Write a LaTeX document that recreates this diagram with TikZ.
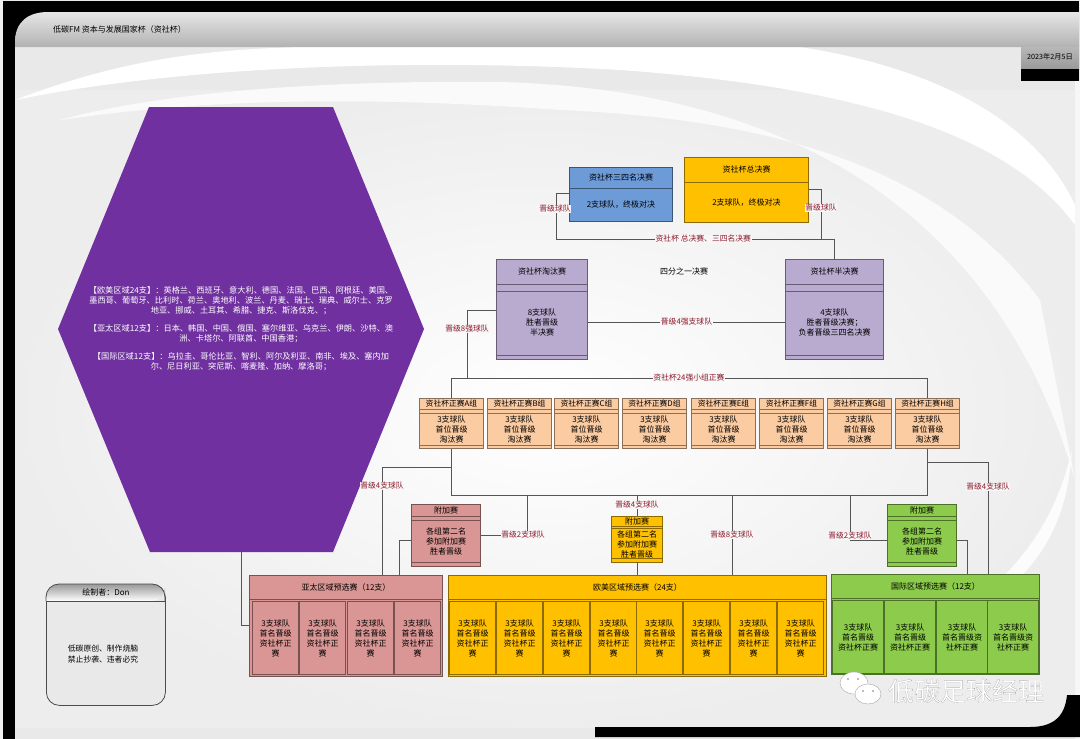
\documentclass[tikz,border=0pt]{standalone}
\usepackage{fontspec}
\setmainfont{Noto Sans CJK SC}
\newfontfamily\markfont[FakeBold=0.35]{Noto Sans CJK SC}
\usetikzlibrary{positioning,shapes.geometric,calc}

\definecolor{cPurple}{HTML}{7030A0}
\definecolor{cLilac}{HTML}{B8ABCF}
\definecolor{cBlue}{HTML}{6C9BD8}
\definecolor{cGold}{HTML}{FFC000}
\definecolor{cPeach}{HTML}{FBCBA2}
\definecolor{cRose}{HTML}{D99694}
\definecolor{cGreen}{HTML}{8CCB4B}
\definecolor{cLine}{HTML}{555555}
\definecolor{cLabel}{HTML}{8B1A2B}
\definecolor{cPage}{HTML}{E9E9E9}

\tikzset{
  x=1pt,y=-1pt,
  boxbody/.style={draw=#1!55!black,line width=1pt,anchor=north west,inner sep=0pt},
  boxrule/.style={draw=#1!55!black,line width=0.8pt},
  boxtext/.style={align=center,font=\fontsize{8}{10}\selectfont,text=black,inner sep=0pt},
  wire/.style={draw=cLine,line width=0.9pt},
  wirelabel/.style={font=\fontsize{7.8}{9}\selectfont,text=cLabel,fill=white!97!black,inner sep=0.6pt},
  cellbox/.style={boxbody=#1,fill=#1,line width=1.2pt,minimum height=73pt},
}

% name, x, y, w, h, band, colour, title, body
\newcommand{\compbox}[9]{%
  \node[boxbody=#7,fill=#7,minimum width=#4pt,minimum height=#5pt] (#1) at (#2,#3) {};
  \draw[boxrule=#7] ($(#1.north west)+(0,#6)$) -- ($(#1.north east)+(0,#6)$);
  \node[boxtext] (#1t) at ($(#1.north)+(0,#6/2)$) {#8};
  \node[boxtext] (#1b) at ($(#1.center)+(0,#6/2)$) {#9};
}
% name, colour, rule from the top, rule from the bottom
\newcommand{\morerules}[4]{%
  \draw[boxrule=#2] ($(#1.north west)+(0,#3)$) -- ($(#1.north east)+(0,#3)$)
    ($(#1.south west)+(0,-#4)$) -- ($(#1.south east)+(0,-#4)$);
}

\begin{document}
\begin{tikzpicture}
  \useasboundingbox (0,0) rectangle (1080,739);
  % page
  \fill[cPage] (0,0) rectangle (1080,739);
  \fill[white!97!black] (1075,81) rectangle (1080,739);
  \fill[white!94!black] (0,0) rectangle (3,739);
  \shade[inner color=white,outer color=white!93!black] (15,90) rectangle (1075,727);
  \fill[white] (15,100) .. controls (120,60) and (200,50) .. (300,47) -- (800,47)
    .. controls (950,70) and (1040,130) .. (1075,205) -- (1075,225)
    .. controls (1020,150) and (900,90) .. (620,70) .. controls (450,60) and (200,62) .. (15,100) -- cycle;
  \fill[white!98!black] (60,120) .. controls (150,95) and (300,80) .. (500,82)
    .. controls (800,90) and (1000,220) .. (1075,480) -- (1040,300)
    .. controls (950,180) and (800,120) .. (560,110) .. controls (350,95) and (200,100) .. (60,120) -- cycle;
  \fill[white!99!black] (1000,580) .. controls (1040,540) and (1060,500) .. (1072,450)
    .. controls (1068,510) and (1050,550) .. (1012,585) -- cycle;
  \fill[black] (3,1) rectangle (1079,12);
  \fill[black] (3,1) rectangle (15,739);
  \fill[black] (15,12) rectangle (50,47);
  \fill[black] (595,727) -- (1030,727) .. controls (1055,727) and (1065,715) .. (1067,695)
    -- (1080,695) -- (1080,737) -- (595,737) -- cycle;
  % title band
  \shade[top color=white!90!black,bottom color=white!70!black] (15,47) -- (15,42)
    .. controls (15,22) and (28,12) .. (48,12) -- (1079,12) -- (1079,47) -- cycle;
  \shade[top color=white!72!black,bottom color=white!60!black] (1021,47) rectangle (1079,69);
  \fill[black] (1021,69) rectangle (1079,81);
  \node[boxtext,anchor=west] (titlebar) at (53,29) {低碳FM 资本与发展国家杯（资社杯）};
  \node[boxtext,font=\fontsize{7.2}{9}\selectfont] (datebar) at (1050,57) {2023年2月5日};

  % region list
  \fill[cPurple] (149,107) -- (333,107) -- (424,329) -- (333,552) -- (150,552) -- (58,329) -- cycle;
  \coordinate (hexfoot) at (241,552);
  \node[align=center,text=white,font=\fontsize{8.2}{10}\selectfont,inner sep=0pt] (regions) at (241,329)
    {【欧美区域24支】：英格兰、西班牙、意大利、德国、法国、巴西、阿根廷、美国、\\
     墨西哥、葡萄牙、比利时、荷兰、奥地利、波兰、丹麦、瑞士、瑞典、威尔士、克罗\\
     地亚、挪威、土耳其、希腊、捷克、斯洛伐克、；\\[8pt]
     【亚太区域12支】：日本、韩国、中国、俄国、塞尔维亚、乌克兰、伊朗、沙特、澳\\
     洲、卡塔尔、阿联酋、中国香港；\\[8pt]
     【国际区域12支】：乌拉圭、哥伦比亚、智利、阿尔及利亚、南非、埃及、塞内加\\
     尔、尼日利亚、突尼斯、喀麦隆、加纳、摩洛哥；};

  % author note
  \node[draw=black!70,fill=cPage,rounded corners=13pt,anchor=north west,minimum width=119pt,minimum height=121pt,line width=0.8pt] (author) at (46,584) {};
  \shade[top color=white!60!black,bottom color=white,rounded corners=13pt] (46,601) -- (46,584) -- (165,584) -- (165,601) [sharp corners] -- cycle;
  \draw[black!70,line width=0.8pt,rounded corners=13pt] (46,601) -- (46,584) -- (165,584) -- (165,601);
  \draw[black!70,line width=0.8pt] (46,601) -- (165,601);
  \node[boxtext] (authort) at (106,592) {绘制者：Don};
  \node[boxtext,font=\fontsize{7.8}{11}\selectfont] (authorb) at (103,654) {低碳原创、制作烧脑\\禁止抄袭、违者必究};

  % top boxes
  \compbox{third}{569}{167}{103}{54}{21}{cBlue}{资社杯三四名决赛}{2支球队，终极对决}
  \compbox{final}{684}{157}{124}{65}{25}{cGold}{资社杯总决赛}{2支球队，终极对决}
  \compbox{quarter}{496}{259}{91}{100}{25}{cLilac}{资社杯淘汰赛}{8支球队\\胜者晋级\\半决赛}
  \compbox{semi}{785}{259}{98}{100}{25}{cLilac}{资社杯半决赛}{4支球队\\胜者晋级决赛；\\负者晋级三四名决赛}
  \morerules{quarter}{cLilac}{32}{5}
  \morerules{semi}{cLilac}{32}{5}
  \node[boxtext] (qflabel) at (684,271) {四分之一决赛};

  % group stage
  \foreach \gname/\gx in {A/419,B/487,C/554,D/622,E/691,F/759,G/827,H/895}{
    \compbox{group\gname}{\gx}{398}{64}{50}{11}{cPeach}{\fontsize{7.8}{9}\selectfont 资社杯正赛\gname 组}{3支球队\\首位晋级\\淘汰赛}
    \morerules{group\gname}{cPeach}{15}{4}
  }

  % playoffs
  \compbox{playA}{411}{504}{69}{62}{12}{cRose}{附加赛}{各组第二名\\参加附加赛\\胜者晋级}
  \compbox{playB}{611}{516}{51}{46}{10}{cGold}{附加赛}{各组第二名\\参加附加赛\\胜者晋级}
  \compbox{playC}{887}{504}{69}{62}{12}{cGreen}{附加赛}{各组第二名\\参加附加赛\\胜者晋级}
  \morerules{playA}{cRose}{16}{5}
  \morerules{playB}{cGold}{12}{5}
  \morerules{playC}{cGreen}{16}{5}

  % qualifiers
  \compbox{asia}{249}{575}{193}{101}{24}{cRose}{亚太区域预选赛（12支）}{}
  \compbox{euro}{448}{575}{378}{101}{24}{cGold}{欧美区域预选赛（24支）}{}
  \compbox{intl}{831}{574}{208}{100}{24}{cGreen}{国际区域预选赛（12支）}{}
  \foreach \cname/\cx in {1/252,2/299,3/347,4/394}{
    \node[cellbox=cRose,minimum width=46pt] (asia\cname) at (\cx,601) {};
    \node[boxtext] (asia\cname t) at (asia\cname.center) {3支球队\\首名晋级\\资社杯正\\赛};
  }
  \foreach \cname/\cx in {1/449,2/496,3/543,4/590,5/636,6/683,7/730,8/777}{
    \node[cellbox=cGold,minimum width=46pt] (euro\cname) at (\cx,601) {};
    \node[boxtext] (euro\cname t) at (euro\cname.center) {3支球队\\首名晋级\\资社杯正\\赛};
  }
  \foreach \cname/\cx/\ctext in {1/832/首名晋级\\资社杯正赛,2/884/首名晋级\\资社杯正赛,3/936/首名晋级资\\社杯正赛,4/987/首名晋级资\\社杯正赛}{
    \node[cellbox=cGreen,minimum width=51pt] (intl\cname) at (\cx,600) {};
    \node[boxtext] (intl\cname t) at (intl\cname.center) {3支球队\\\ctext};
  }

  % links
  \coordinate (finalbus) at (821,239);
  \coordinate (thirdbus) at (556,239);
  \coordinate (semibus) at (834,239);
  \coordinate (groupbus) at (451,378);
  \coordinate (groupbusr) at (927,378);
  \coordinate (lowbus) at (451,495);
  \coordinate (lowbusr) at (927,495);
  \path[wire] (third.west |- 0,193) -- (thirdbus |- 0,193) -- (thirdbus) -- node[pos=0.53,wirelabel] {资社杯 总决赛、三四名决赛} (semibus) -- (semibus |- semi.north);
  \path[wire] (final.east |- 0,189) -- (finalbus |- 0,189) -- (finalbus);
  \node[wirelabel] (lblthird) at (555,209) {晋级球队};
  \node[wirelabel] (lblfinal) at (821,208) {晋级球队};
  \path[wire] (quarter.east |- 0,322) -- node[wirelabel,pos=0.5] {晋级4强支球队} (semi.west |- 0,322);
  \path[wire] (quarter.west |- 0,310) -- (467,310) -- (467,378);
  \node[wirelabel] (lbleight) at (467,329) {晋级8强球队};
  \path[wire] (groupbus) -- node[wirelabel,pos=0.5] {资社杯24强小组正赛} (groupbusr);
  \path[wire] (groupbus) -- (groupbus |- groupA.north);
  \path[wire] (groupbusr) -- (groupbusr |- groupH.north);
  \path[wire] (lowbus |- groupA.south) -- (lowbus) -- (lowbusr) -- (lowbusr |- groupH.south);
  \path[wire] (451,467) -- (382,467) -- (382,575);
  \node[wirelabel] (lblaa) at (382,486) {晋级4支球队};
  \path[wire] (927,462) -- (988,462) -- (988,574);
  \node[wirelabel] (lblcc) at (988,487) {晋级4支球队};
  \path[wire] (playA.east |- 0,535) -- (527,535) -- (527,495);
  \node[wirelabel] (lblpa) at (523,535) {晋级2支球队};
  \path[wire] (playA.west |- 0,540) -- (399,540) -- (399,575);
  \path[wire] (637,495) -- (637,516);
  \node[wirelabel] (lblpb) at (637,505) {晋级4支球队};
  \path[wire] (637,562) -- (637,575);
  \path[wire] (732,495) -- node[wirelabel,pos=0.5] {晋级8支球队} (732,575);
  \path[wire] (850,495) -- (850,540) -- (playC.west |- 0,540);
  \node[wirelabel] (lblpc) at (850,536) {晋级2支球队};
  \path[wire] (playC.east |- 0,540) -- (967,540) -- (967,574);
  \path[wire] (hexfoot) -- (241,625) -- (asia.west |- 0,625);

  % watermark
  \node[ellipse,draw=black!35,fill=white,minimum width=28pt,minimum height=22pt,inner sep=0pt] (bubbleA) at (854,683) {};
  \node[ellipse,draw=black!35,fill=white,minimum width=26pt,minimum height=20pt,inner sep=0pt] (bubbleB) at (868,694) {};
  \fill[black!35] (848,679) circle (1.2) (858,679) circle (1.2) (863,691) circle (1.1) (873,691) circle (1.1);
  \node[font=\fontsize{26}{30}\selectfont,text=white,inner sep=0pt] (mark) at (966,691)
    {\markfont\special{pdf:bcolor [1] [0.55]}低碳足球经理\special{pdf:ecolor}};
\end{tikzpicture}
\end{document}
